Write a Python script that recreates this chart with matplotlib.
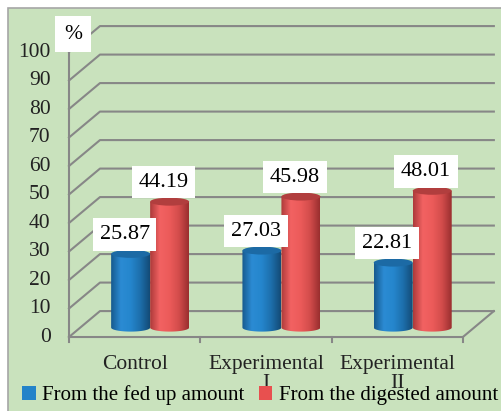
import numpy as np
import matplotlib.pyplot as plt
from matplotlib.patches import Ellipse, PathPatch, Rectangle, Patch
from matplotlib.path import Path
from matplotlib.colors import LinearSegmentedColormap

plt.rcParams['font.family'] = ['Liberation Serif', 'DejaVu Serif']

groups = ['Control', 'Experimental\nI', 'Experimental\nII']
fed = [25.87, 27.03, 22.81]
digested = [44.19, 45.98, 48.01]
series_names = ['From the fed up amount', 'From the digested amount']
yticks = np.arange(0, 101, 10)

# fake 3d geometry, in data units
DX, DY = 0.236, 9.1    # offset of the back wall
BASE = 3.3             # cylinders stand in the middle of the floor
W = 0.297              # cylinder width
R = 1.4                # half height of the cylinder ellipses
GRID = '#878787'

blue_map = LinearSegmentedColormap.from_list('b', ['#175a8e', '#2b8bd3', '#2586cd', '#1d6fac', '#134b77'])
red_map = LinearSegmentedColormap.from_list('r', ['#ad3a3a', '#f26262', '#ec5b5a', '#d24c4b', '#9a2f2f'])

fig = plt.figure(figsize=(5.02, 4.11), dpi=100)
fig.patches.append(Rectangle((8/502, -0.01), 1, 1.01 - 8/411, transform=fig.transFigure,
                             facecolor='#c9e2bd', edgecolor='#a6a6a6', lw=1.2, zorder=-5))
ax = fig.add_axes([0, 0, 1, 1])
ax.axis('off')

# walls and floor
for v in yticks:
    ax.plot([-0.5, -0.5 + DX, 2.5 + DX], [v, v + DY, v + DY], color=GRID, lw=1.5, zorder=1)
    ax.text(-0.64, v, str(v), ha='right', va='center', fontsize=15.5, color='#222222')
ax.plot([-0.5, -0.5], [0, 100], color=GRID, lw=1.5, zorder=1)
ax.plot([-0.5, 2.5, 2.5 + DX], [0, 0, DY], color=GRID, lw=1.5, zorder=1)
for x in np.arange(-0.5, 2.6, 1):
    ax.plot([x, x], [0, -1.8], color=GRID, lw=1.5, zorder=1)
ax.text(-0.47, 106.3, '%', ha='center', va='center', fontsize=15.5,
        bbox=dict(boxstyle='square,pad=0.4', fc='white', ec='none'), zorder=10)


def cylinder(xc, h, cmap, top_color, z):
    x0, x1 = xc - W / 2, xc + W / 2
    yt = BASE + h
    t = np.linspace(np.pi, 2 * np.pi, 40)
    arc = np.column_stack([xc + W / 2 * np.cos(t), BASE + R * np.sin(t)])
    verts = np.vstack([[x0, yt], arc, [x1, yt], [x0, yt]])
    codes = [Path.MOVETO] + [Path.LINETO] * (len(verts) - 2) + [Path.CLOSEPOLY]
    clip = PathPatch(Path(verts, codes), facecolor='none', edgecolor='none')
    ax.add_patch(clip)
    grad = np.linspace(0, 1, 100).reshape(1, -1)
    im = ax.imshow(grad, cmap=cmap, extent=[x0, x1, BASE - R, yt], aspect='auto',
                   zorder=z, interpolation='bilinear')
    im.set_clip_path(clip)
    ax.add_patch(Ellipse((xc, yt), W, 2 * R, facecolor=top_color, edgecolor='none', zorder=z + 0.5))
    ax.text(xc - 0.046, yt + 6.8, f'{h:.2f}', ha='center', va='center', fontsize=16,
            bbox=dict(boxstyle='square,pad=0.3', fc='white', ec='none'), zorder=10)


for i in range(len(groups)):
    mid = i + DX / 2
    cylinder(mid - W / 2, fed[i], blue_map, '#1c6aa5', 3)
    cylinder(mid + W / 2, digested[i], red_map, '#b13e3e', 5)
    ax.text(i, -6.2, groups[i], ha='center', va='top', fontsize=15.5, linespacing=1.05,
            color='#222222', zorder=1)

ax.set_xlim(-1.0255, 2.798)
ax.set_ylim(-25.96, 118.25)

handles = [Patch(fc='#2383c9'), Patch(fc='#e8504f')]
leg = fig.legend(handles, series_names, loc='center', bbox_to_anchor=(0.518, 0.038), ncol=2,
                 frameon=False, fontsize=15, handlelength=0.65, handleheight=0.65,
                 handletextpad=0.3, columnspacing=0.7, borderaxespad=0)
leg.set_zorder(20)

fig.savefig('out.png', dpi=100)
